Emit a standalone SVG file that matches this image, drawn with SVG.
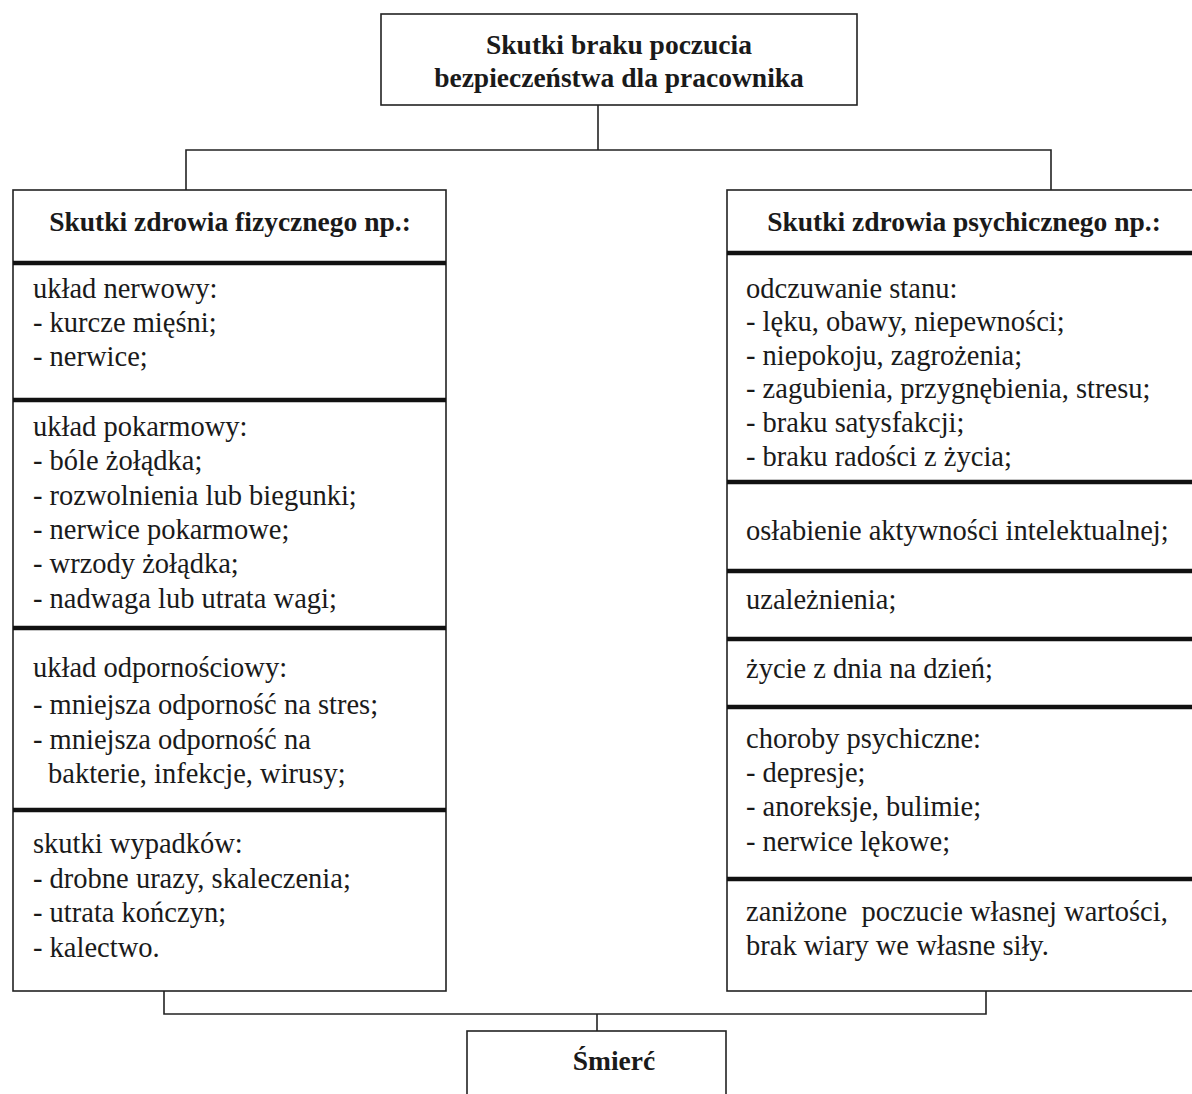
<svg xmlns="http://www.w3.org/2000/svg" width="1192" height="1094" viewBox="0 0 1192 1094">
<style>
.box{fill:#fff;stroke:#222;stroke-width:1.6}
.div{stroke:#111;stroke-width:4.5}
.con{fill:none;stroke:#222;stroke-width:1.6}
.t{font-family:"Liberation Serif","Times New Roman",serif;font-size:28.5px;fill:#1a1a1a}
.h{font-family:"Liberation Serif","Times New Roman",serif;font-size:27.5px;font-weight:bold;fill:#1a1a1a;text-anchor:middle}
</style>
<rect width="1192" height="1094" fill="#fff"/>
<g id="connectors">
<path class="con" d="M598,105 V150"/>
<path class="con" d="M186,190 V150 H1051 V190"/>
<path class="con" d="M164,991 V1014 H986 V991"/>
<path class="con" d="M597,1014 V1031"/>
</g>
<g id="top">
<rect class="box" x="381" y="14" width="476" height="91"/>
<text class="h" x="619" y="54">Skutki braku poczucia</text>
<text class="h" x="619" y="87">bezpieczeństwa dla pracownika</text>
</g>
<g id="left">
<rect class="box" x="13" y="190" width="433" height="801"/>
<text class="h" x="230" y="231">Skutki zdrowia fizycznego np.:</text>
<line class="div" x1="13" y1="263" x2="446" y2="263"/>
<line class="div" x1="13" y1="400" x2="446" y2="400"/>
<line class="div" x1="13" y1="628" x2="446" y2="628"/>
<line class="div" x1="13" y1="810" x2="446" y2="810"/>
<text class="t" x="33" y="298">układ nerwowy:</text>
<text class="t" x="33" y="332">- kurcze mięśni;</text>
<text class="t" x="33" y="366">- nerwice;</text>
<text class="t" x="33" y="436">układ pokarmowy:</text>
<text class="t" x="33" y="470">- bóle żołądka;</text>
<text class="t" x="33" y="505">- rozwolnienia lub biegunki;</text>
<text class="t" x="33" y="539">- nerwice pokarmowe;</text>
<text class="t" x="33" y="573">- wrzody żołądka;</text>
<text class="t" x="33" y="608">- nadwaga lub utrata wagi;</text>
<text class="t" x="33" y="677">układ odpornościowy:</text>
<text class="t" x="33" y="714">- mniejsza odporność na stres;</text>
<text class="t" x="33" y="749">- mniejsza odporność na</text>
<text class="t" x="48" y="783">bakterie, infekcje, wirusy;</text>
<text class="t" x="33" y="853">skutki wypadków:</text>
<text class="t" x="33" y="888">- drobne urazy, skaleczenia;</text>
<text class="t" x="33" y="922">- utrata kończyn;</text>
<text class="t" x="33" y="957">- kalectwo.</text>
</g>
<g id="right">
<rect class="box" x="727" y="190" width="480" height="801"/>
<text class="h" x="964" y="231">Skutki zdrowia psychicznego np.:</text>
<line class="div" x1="727" y1="253" x2="1207" y2="253"/>
<line class="div" x1="727" y1="482" x2="1207" y2="482"/>
<line class="div" x1="727" y1="571" x2="1207" y2="571"/>
<line class="div" x1="727" y1="639" x2="1207" y2="639"/>
<line class="div" x1="727" y1="707" x2="1207" y2="707"/>
<line class="div" x1="727" y1="879" x2="1207" y2="879"/>
<text class="t" x="746" y="298">odczuwanie stanu:</text>
<text class="t" x="746" y="331">- lęku, obawy, niepewności;</text>
<text class="t" x="746" y="365">- niepokoju, zagrożenia;</text>
<text class="t" x="746" y="398">- zagubienia, przygnębienia, stresu;</text>
<text class="t" x="746" y="432">- braku satysfakcji;</text>
<text class="t" x="746" y="466">- braku radości z życia;</text>
<text class="t" x="746" y="540">osłabienie aktywności intelektualnej;</text>
<text class="t" x="746" y="609">uzależnienia;</text>
<text class="t" x="746" y="678">życie z dnia na dzień;</text>
<text class="t" x="746" y="748">choroby psychiczne:</text>
<text class="t" x="746" y="782">- depresje;</text>
<text class="t" x="746" y="816">- anoreksje, bulimie;</text>
<text class="t" x="746" y="851">- nerwice lękowe;</text>
<text class="t" x="746" y="921" style="white-space:pre">zaniżone  poczucie własnej wartości,</text>
<text class="t" x="746" y="955">brak wiary we własne siły.</text>
</g>
<g id="death">
<rect class="box" x="467" y="1031" width="259" height="80"/>
<text class="h" x="614" y="1070">Śmierć</text>
</g>
</svg>
